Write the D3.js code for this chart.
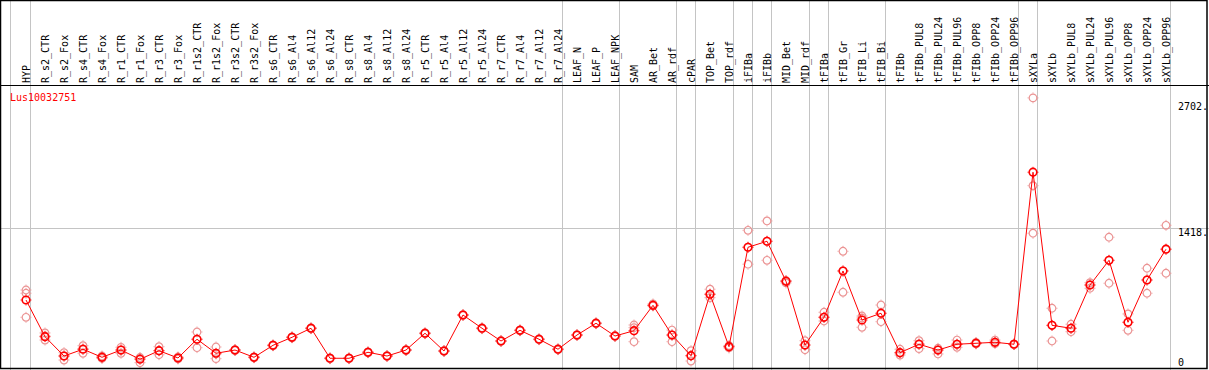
<!DOCTYPE html>
<html>
<head>
<meta charset="utf-8">
<script src="https://cdn.jsdelivr.net/npm/d3@7"></script>
<style>
  body { margin: 0; background: #fff; }
  text { font-family: "DejaVu Sans Mono", monospace; font-size: 10px; }
</style>
</head>
<body>
<svg id="chart"></svg>
<script>
/* ---------- size ---------- */

var WIDTH = 1209,
    HEIGHT = 370,
    HEADER = 85;

/* ---------- data ---------- */

var geneName = "Lus10032751";

var tissues = ["HYP", "R_s2_CTR", "R_s2_Fox", "R_s4_CTR", "R_s4_Fox", "R_r1_CTR", "R_r1_Fox",
    "R_r3_CTR", "R_r3_Fox", "R_r1s2_CTR", "R_r1s2_Fox", "R_r3s2_CTR", "R_r3s2_Fox",
    "R_s6_CTR", "R_s6_Al4", "R_s6_Al12", "R_s6_Al24", "R_s8_CTR", "R_s8_Al4", "R_s8_Al12", "R_s8_Al24",
    "R_r5_CTR", "R_r5_Al4", "R_r5_Al12", "R_r5_Al24", "R_r7_CTR", "R_r7_Al4", "R_r7_Al12", "R_r7_Al24",
    "LEAF_N", "LEAF_P", "LEAF_NPK", "SAM", "AR_Bet", "AR_rdf", "cPAR", "TOP_Bet", "TOP_rdf",
    "iFIBa", "iFIBb", "MID_Bet", "MID_rdf", "tFIBa", "tFIB_Gr", "tFIB_Li", "tFIB_Bi",
    "tFIBb", "tFIBb_PUL8", "tFIBb_PUL24", "tFIBb_PUL96", "tFIBb_OPP8", "tFIBb_OPP24", "tFIBb_OPP96",
    "sXYLa", "sXYLb", "sXYLb_PUL8", "sXYLb_PUL24", "sXYLb_PUL96", "sXYLb_OPP8", "sXYLb_OPP24", "sXYLb_OPP96"];

// mean expression per tissue
var means = [683, 309, 112, 181, 99, 173, 79, 166, 92, 283, 140, 173, 99,
    221, 303, 395, 89, 89, 150, 112, 173,
    344, 163, 530, 395, 265, 374, 283, 181,
    326, 446, 316, 370, 629, 326, 115, 742, 207,
    1221, 1282, 874, 224, 507, 979, 479, 548,
    146, 232, 173, 232, 242, 252, 232,
    1986, 425, 395, 836, 1088, 456, 887, 1201];

// single replicates per tissue
var replicates = [
    [785, 752, 507], [347, 275, 316], [146, 71, 112], [217, 140, 184], [112, 87, 99],
    [201, 140, 173], [89, 44, 97], [207, 125, 166], [102, 82, 92], [357, 197, 283],
    [204, 85, 133], [178, 168, 173], [104, 94, 99], [226, 216, 221], [308, 298, 303],
    [400, 390, 395], [94, 84, 89], [94, 84, 89], [155, 145, 150], [117, 107, 112],
    [178, 168, 173], [349, 339, 344], [168, 158, 163], [535, 525, 530], [400, 390, 395],
    [270, 260, 265], [379, 369, 374], [288, 278, 283], [186, 176, 181], [331, 321, 326],
    [451, 441, 446], [321, 311, 316], [428, 258, 401], [643, 622, 629], [377, 258, 326],
    [166, 61, 115], [793, 707, 742], [219, 194, 207], [1394, 1048, 1221], [1489, 1088, 1282],
    [882, 857, 877], [268, 176, 224], [558, 469, 507], [1180, 762, 979], [520, 405, 500],
    [632, 462, 548], [181, 122, 143], [268, 187, 235], [133, 191, 173], [275, 201, 232],
    [250, 235, 242], [275, 238, 252], [236, 228, 232], [2744, 1849, 1364], [599, 265, 425],
    [436, 360, 395], [860, 803, 836], [1323, 854, 1088], [541, 374, 456], [1007, 752, 887],
    [1445, 956, 1201]];

// last tissue of each group, a grey separator follows it
var groupEnds = ["HYP", "R_r7_Al24", "LEAF_NPK", "AR_rdf", "cPAR", "TOP_rdf", "iFIBa", "iFIBb",
    "MID_rdf", "tFIBa", "tFIB_Bi", "tFIBb_OPP96", "sXYLa", "sXYLb_OPP96"];

var yTicks = [0, 1418, 2702];

/* ---------- colours ---------- */

var meanColor = "#ff0000",
    repColor = "#eb9494",
    gridColor = "#c4c4c4";

/* ---------- scales ---------- */

var x = d3.scalePoint()
    .domain(tissues)
    .range([26, 1166]);

var y = d3.scaleLinear()
    .domain([0, 2702])
    .range([367, 102]);

var svg = d3.select("#chart")
    .attr("width", WIDTH)
    .attr("height", HEIGHT);

/* ---------- grid ---------- */

svg.append("line")
    .attr("x1", 10.5).attr("x2", 10.5)
    .attr("y1", 0).attr("y2", HEIGHT)
    .attr("stroke", gridColor);

svg.selectAll(".sep")
    .data(groupEnds)
  .enter().append("line")
    .attr("class", "sep")
    .attr("x1", function(d) { return Math.round(x(d) + 4) + 0.5; })
    .attr("x2", function(d) { return Math.round(x(d) + 4) + 0.5; })
    .attr("y1", 0)
    .attr("y2", HEIGHT)
    .attr("stroke", gridColor);

svg.append("line")
    .attr("x1", 0).attr("x2", WIDTH)
    .attr("y1", Math.round(y(1418)) + 0.5)
    .attr("y2", Math.round(y(1418)) + 0.5)
    .attr("stroke", gridColor);

/* ---------- header labels ---------- */

svg.selectAll(".tlabel")
    .data(tissues)
  .enter().append("text")
    .attr("class", "tlabel")
    .attr("transform", function(d) { return "translate(" + (x(d) + 4) + ",83) rotate(-90)"; })
    .attr("fill", "#000")
    .text(function(d) { return d; });

svg.append("text")
    .attr("x", 10)
    .attr("y", 101)
    .attr("fill", meanColor)
    .text(geneName);

/* ---------- right axis labels ---------- */

svg.selectAll(".ylabel")
    .data(yTicks)
  .enter().append("text")
    .attr("class", "ylabel")
    .attr("x", 1178)
    .attr("y", function(d) { return d === 0 ? 366 : y(d) + 8; })
    .attr("fill", "#000")
    .text(function(d) { return d === 0 ? "0" : d + "."; });

/* ---------- markers ---------- */

function marker(sel, color, w) {
    sel.append("circle")
        .attr("r", 3.8)
        .attr("fill", "none")
        .attr("stroke", color)
        .attr("stroke-width", w);
    sel.append("path")
        .attr("d", "M0,-5.4V-4.4M0,4.4V5.4M-5.4,0H-4.4M4.4,0H5.4")
        .attr("stroke", color)
        .attr("stroke-width", 1);
}

var repData = [];
tissues.forEach(function(t, i) {
    replicates[i].forEach(function(v) { repData.push({tissue: t, value: v}); });
});

svg.selectAll(".rep")
    .data(repData)
  .enter().append("g")
    .attr("class", "rep")
    .attr("transform", function(d) { return "translate(" + x(d.tissue) + "," + y(d.value) + ")"; })
    .call(marker, repColor, 1.2);

var line = d3.line()
    .x(function(d, i) { return x(tissues[i]); })
    .y(function(d) { return y(d); });

svg.append("path")
    .datum(means)
    .attr("fill", "none")
    .attr("stroke", meanColor)
    .attr("stroke-width", 1)
    .attr("d", line);

svg.selectAll(".mean")
    .data(means)
  .enter().append("g")
    .attr("class", "mean")
    .attr("transform", function(d, i) { return "translate(" + x(tissues[i]) + "," + y(d) + ")"; })
    .call(marker, meanColor, 1.6);

/* ---------- frame ---------- */

svg.append("line")
    .attr("x1", 0).attr("x2", WIDTH)
    .attr("y1", HEADER + 0.5).attr("y2", HEADER + 0.5)
    .attr("stroke", "#000");

svg.append("rect")
    .attr("x", 0.5).attr("y", 0.5)
    .attr("width", WIDTH - 2.5).attr("height", HEIGHT - 2)
    .attr("fill", "none")
    .attr("stroke", "#000")
    .attr("stroke-width", 1.5);
</script>
</body>
</html>
